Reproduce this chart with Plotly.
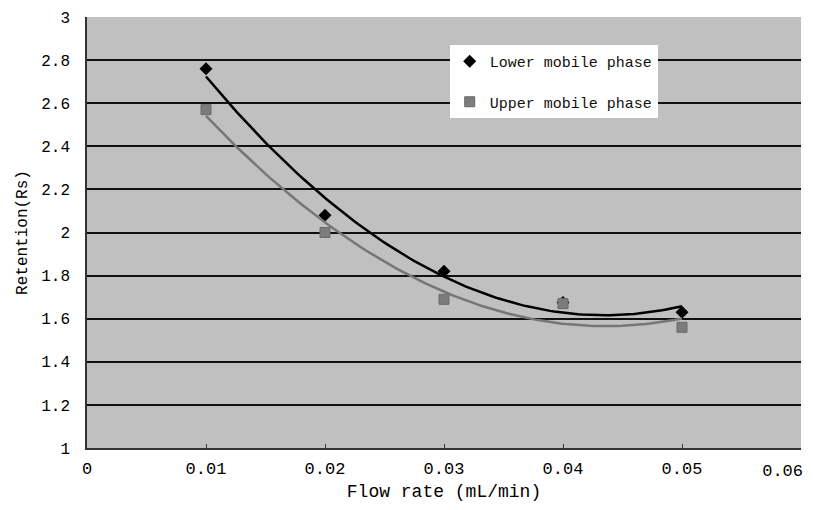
import numpy as np
import plotly.graph_objects as go

flow_rate = [0.01, 0.02, 0.03, 0.04, 0.05]
lower_phase = [2.76, 2.08, 1.82, 1.675, 1.63]
upper_phase = [2.57, 2.00, 1.69, 1.67, 1.56]
x_ticks = [0, 0.01, 0.02, 0.03, 0.04, 0.05, 0.06]
x_tick_text = ["0", "0.01", "0.02", "0.03", "0.04", "0.05", ""]
x_edge_tick = [0.06]
x_edge_text = ["0.06"]
y_ticks = [1, 1.2, 1.4, 1.6, 1.8, 2, 2.2, 2.4, 2.6, 2.8, 3]

FONT = "Liberation Mono, DejaVu Sans Mono, monospace"

# Second-order polynomial trendlines (as in the original spreadsheet chart)
xs = np.linspace(min(flow_rate), max(flow_rate), 120)
fit_lower = np.polyval(np.polyfit(flow_rate, lower_phase, 2), xs)
fit_upper = np.polyval(np.polyfit(flow_rate, upper_phase, 2), xs)

fig = go.Figure()
fig.add_trace(go.Scatter(x=xs, y=fit_lower, mode="lines", showlegend=False,
                         line=dict(color="#000000", width=2.5), hoverinfo="skip"))
fig.add_trace(go.Scatter(x=xs, y=fit_upper, mode="lines", showlegend=False, xaxis="x2",
                         line=dict(color="#767676", width=2.5), hoverinfo="skip"))
fig.add_trace(go.Scatter(x=flow_rate, y=lower_phase, mode="markers", name="Lower mobile phase",
                         legendgroup="a",
                         marker=dict(symbol="diamond", size=10, color="#000000")))
fig.add_trace(go.Scatter(x=flow_rate, y=upper_phase, mode="markers", name="Upper mobile phase",
                         legendgroup="b",
                         marker=dict(symbol="square", size=10, color="#7c7c7c",
                                     line=dict(color="#6a6a6a", width=1))))

fig.update_layout(
    width=797, height=494,
    margin=dict(l=79, r=4, t=9, b=54),
    paper_bgcolor="white",
    plot_bgcolor="#c0c0c0",
    font=dict(family=FONT, size=17, color="#000000"),
    legend=dict(x=0.508, y=0.935, xanchor="left", yanchor="top",
                bgcolor="white", borderwidth=0,
                font=dict(family=FONT, size=15, color="#111111"),
                tracegroupgap=18, traceorder="grouped"),
    xaxis=dict(range=[0, 0.06], tickvals=x_ticks, ticktext=x_tick_text,
               showgrid=False, zeroline=False,
               showline=True, linecolor="#333333", linewidth=1.5,
               ticks="inside", ticklen=4, tickcolor="#333333",
               tickfont=dict(size=17),
               title=dict(text="Flow rate (mL/min)", font=dict(size=18), standoff=9),
               ticklabelstandoff=4, automargin=False),
    xaxis2=dict(range=[0, 0.06], overlaying="x", anchor="y", side="bottom", matches="x",
                tickvals=x_edge_tick, ticktext=x_edge_text, ticks="",
                showgrid=False, zeroline=False, showline=False,
                tickfont=dict(size=17), ticklabelposition="outside left",
                ticklabelshift=2, ticklabelstandoff=10, automargin=False),
    yaxis=dict(range=[1, 3], tickvals=y_ticks, showgrid=True, gridcolor="#111111", gridwidth=1.5,
               zeroline=False, showline=True, linecolor="#333333", linewidth=1.5,
               tickfont=dict(size=16),
               title=dict(text="Retention(Rs)", font=dict(size=16), standoff=10),
               ticklabelstandoff=12, automargin=False, ticklabeloverflow="allow"),
)

fig.write_html("out.html")
